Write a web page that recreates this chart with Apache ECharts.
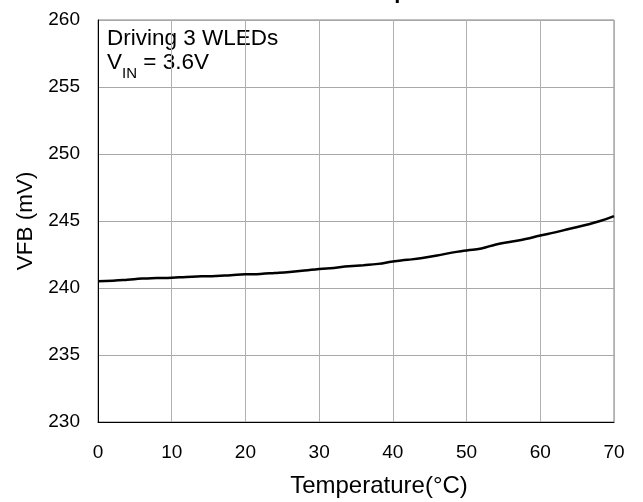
<!DOCTYPE html>
<html>
<head>
<meta charset="utf-8">
<script src="https://cdn.jsdelivr.net/npm/echarts@6/dist/echarts.min.js"></script>
<style>html,body{margin:0;padding:0;background:#fff;}#c{width:643px;height:502px;}</style>
</head>
<body>
<div id="c"></div>
<script>
const temperature = [0,2,4,6,8,10,12,14,16,18,20,22,24,26,28,30,32,34,36,38,40,42,44,46,48,50,52,54,56,58,60,62,64,66,68,70];
const vfb = [240.5,240.55,240.62,240.7,240.74,240.77,240.83,240.87,240.9,240.96,241.02,241.05,241.12,241.2,241.3,241.42,241.5,241.62,241.7,241.8,241.98,242.1,242.24,242.42,242.64,242.8,242.95,243.25,243.45,243.65,243.92,244.15,244.42,244.68,244.98,245.37];
const xTicks = [0,10,20,30,40,50,60,70];
const yTicks = [230,235,240,245,250,255,260];
const titleText = 'VFB vs Temperature';
const noteLine1 = 'Driving 3 WLEDs';

const chart = echarts.init(document.getElementById('c'), null, {renderer:'canvas'});
const font = 'Arial, "Liberation Sans", sans-serif';
chart.setOption({
  animation:false,
  backgroundColor:'#fff',
  title:{text:titleText,left:265,top:-24,textStyle:{fontFamily:font,fontSize:22,fontWeight:'bold',color:'#000'}},
  grid:{left:98,right:29,top:20,bottom:80,containLabel:false,outerBoundsMode:'none',show:true,borderColor:'#808080',borderWidth:1,backgroundColor:'transparent'},
  xAxis:{type:'value',min:xTicks[0],max:xTicks[xTicks.length-1],interval:10,
    name:'Temperature(°C)',nameLocation:'middle',nameGap:52,
    nameTextStyle:{fontFamily:font,fontSize:24,color:'#000',padding:[0,0,0,46]},
    axisLine:{show:true,lineStyle:{color:'#000',width:1}},axisTick:{show:false},
    axisLabel:{fontFamily:font,fontSize:19,color:'#000',margin:21.5},
    splitLine:{show:true,lineStyle:{color:'#b0b0b0',width:1}}},
  yAxis:{type:'value',min:yTicks[0],max:yTicks[yTicks.length-1],interval:5,
    name:'VFB (mV)',nameLocation:'middle',nameGap:59,
    nameTextStyle:{fontFamily:font,fontSize:22.5,color:'#000'},
    axisLine:{show:true,lineStyle:{color:'#000',width:1}},axisTick:{show:false},
    axisLabel:{fontFamily:font,fontSize:19,color:'#000',margin:18},
    splitLine:{show:true,lineStyle:{color:'#a8a8a8',width:1}}},
  series:[{type:'line',data:temperature.map((t,i)=>[t,vfb[i]]),showSymbol:false,smooth:true,
    lineStyle:{color:'#000',width:2.5},z:5}],
  graphic:[{type:'group',left:99,top:22,z:10,children:[
    {type:'rect',shape:{x:0,y:0,width:215,height:60},style:{fill:'#fff'}},
    {type:'text',x:8,y:5.5,style:{text:noteLine1,font:'22.5px Arial, "Liberation Sans", sans-serif',fill:'#000'}},
    {type:'text',x:8,y:26,style:{text:'{a|V}{s|IN}{a| = 3.6V}',fill:'#000',
      rich:{a:{fontSize:22.5,fontFamily:font,verticalAlign:'bottom',lineHeight:26},
            s:{fontSize:15,fontFamily:font,verticalAlign:'bottom',lineHeight:15,padding:[0,0,-7,0]}}}}
  ]}]
});
</script>
</body>
</html>
